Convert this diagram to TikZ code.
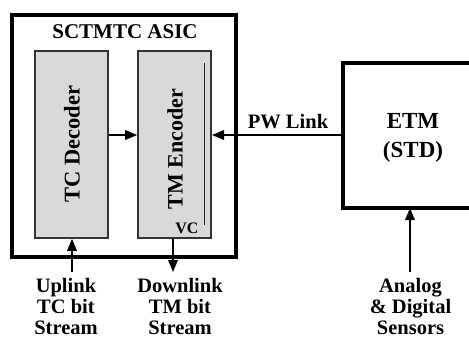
\documentclass[tikz,border=0pt]{standalone}
\usepackage{fontspec}
\setmainfont{Liberation Serif}
\usetikzlibrary{arrows.meta}

\tikzset{
  frame/.style={draw, line width=4pt, inner sep=0pt},
  blk/.style={draw=black!80, line width=1.6pt, fill=black!15, inner sep=0pt,
    minimum width=73pt, minimum height=187pt},
  lbl/.style={font=\bfseries\fontsize{20.5}{21}\selectfont, align=center, inner sep=0pt},
  sig/.style={line width=1.8pt, -{Triangle[length=12pt,width=9.5pt]}},
}

\begin{document}
\begin{tikzpicture}[x=1pt,y=-1pt]
  \clip (0,0) rectangle (469,340);
  % ASIC frame with its two blocks
  \node[frame, minimum width=224pt, minimum height=242pt] (asic) at (123.5,135.5) {};
  \node[lbl, font=\bfseries\fontsize{21}{24}\selectfont] (title) at (125,32) {SCTMTC ASIC};
  \node[blk] (dec) at (71.5,144.5) {};
  \node[blk] (enc) at (174.5,144.5) {};
  \node[lbl, rotate=90, font=\bfseries\fontsize{22.5}{24}\selectfont] (dectxt) at (72,144) {TC Decoder};
  \node[lbl, rotate=90, font=\bfseries\fontsize{22}{24}\selectfont] (enctxt) at (175,149) {TM Encoder};
  \node[lbl, font=\bfseries\fontsize{16}{18}\selectfont] (vc) at (187,228) {VC};
  \coordinate (vctop) at (204.5,63);
  \coordinate (vcbot) at (204.5,225);
  \draw[line width=1.5pt, black!85] (vctop) -- (vcbot);
  \draw[sig] (dec.east |- 0,135) -- (enc.west |- 0,135);

  % ETM, open to the right
  \draw[line width=4pt] (490,63) -- (343,63) -- (343,208) -- (490,208);
  \coordinate (etmw) at (343,135);
  \coordinate (etms) at (410,208);
  \node[lbl, font=\bfseries\fontsize{23}{29}\selectfont] (etm) at (413,137.5) {ETM\\(STD)};

  % links
  \coordinate (pwend) at (212,135);
  \draw[sig] (etmw) -- (pwend);
  \node[lbl] (pw) at (288,122) {PW Link};

  \coordinate (up) at (72,272);
  \coordinate (down) at (173,272);
  \coordinate (sens) at (410,272);
  \draw[sig] (up) -- (dec.south -| up);
  \draw[sig] (enc.south -| down) -- (down);
  \draw[sig] (sens) -- (etms);

  \node[lbl, anchor=north] (uplink) at (66,278) {Uplink\\TC bit\\Stream};
  \node[lbl, anchor=north] (downlink) at (180,278) {Downlink\\TM bit\\Stream};
  \node[lbl, anchor=north] (sensors) at (410.5,278) {Analog\\\& Digital\\Sensors};
\end{tikzpicture}
\end{document}
